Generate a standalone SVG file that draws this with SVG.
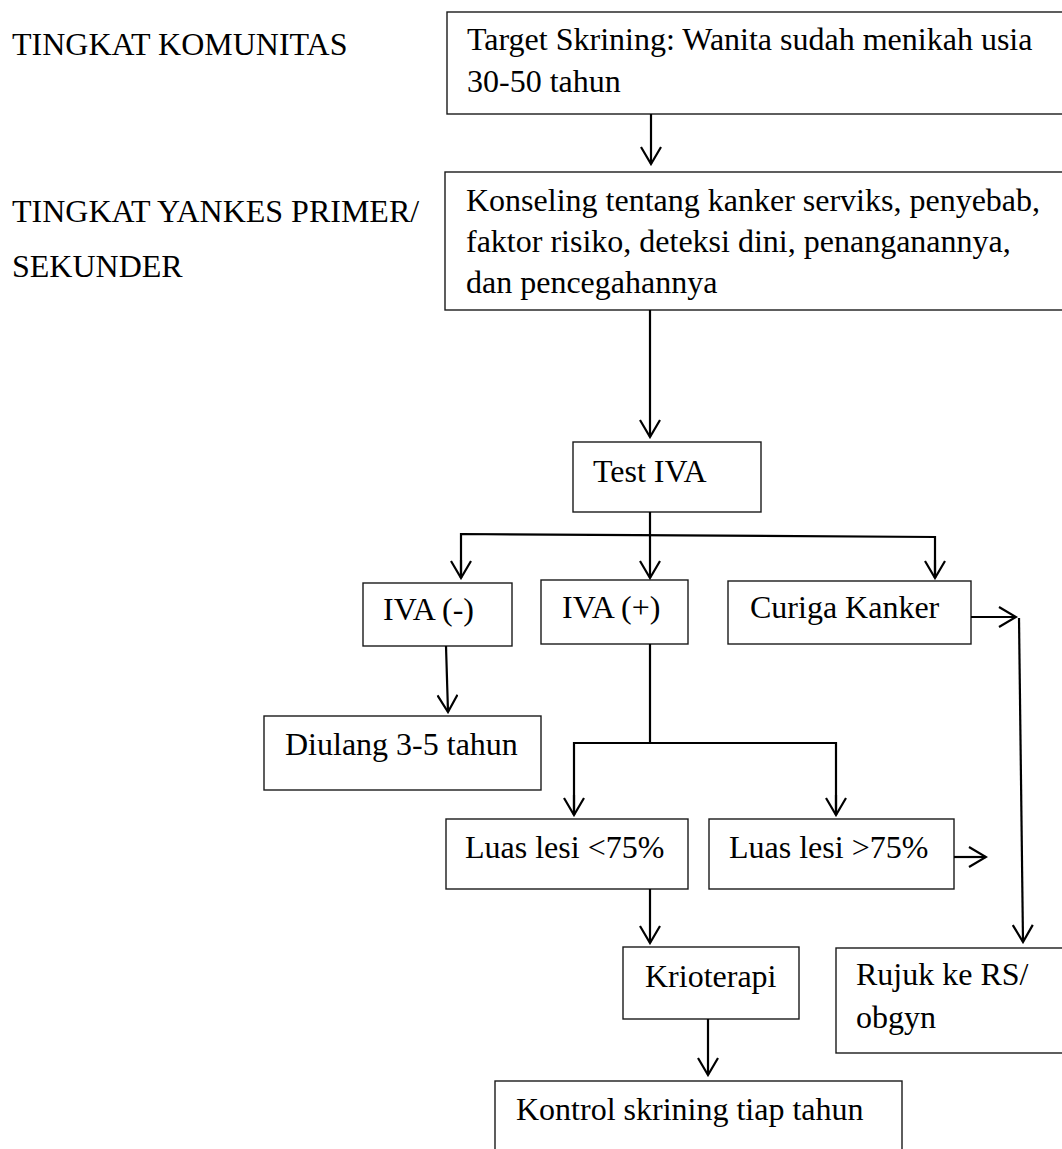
<svg xmlns="http://www.w3.org/2000/svg" width="1062" height="1149" viewBox="0 0 1062 1149">
  <style>
    .box { fill: #ffffff; stroke: #1a1a1a; stroke-width: 1.4; }
    .txt { font-family: "Liberation Serif", "Times New Roman", serif; font-size: 32px; fill: #000000; }
    .wire { fill: none; stroke: #000000; stroke-width: 2.2; }
  </style>
  <defs>
    <marker id="arrow" viewBox="0 0 20 22" refX="18" refY="11" markerWidth="20" markerHeight="22" markerUnits="userSpaceOnUse" orient="auto">
      <path d="M1,1 L18,11 L1,21" fill="none" stroke="#000000" stroke-width="2.2" stroke-linejoin="miter"/>
    </marker>
  </defs>
  <rect width="1062" height="1149" fill="#ffffff"/>

  <!-- level labels -->
  <g id="label-komunitas">
    <text class="txt" x="12" y="55">TINGKAT KOMUNITAS</text>
  </g>
  <g id="label-yankes">
    <text class="txt" x="12" y="222">TINGKAT YANKES PRIMER/</text>
    <text class="txt" x="12" y="277">SEKUNDER</text>
  </g>

  <!-- nodes -->
  <g id="target">
    <rect class="box" x="447" y="12" width="630" height="102"/>
    <text class="txt" x="467" y="50">Target Skrining: Wanita sudah menikah usia</text>
    <text class="txt" x="467" y="92">30-50 tahun</text>
  </g>
  <g id="konseling">
    <rect class="box" x="445" y="172" width="630" height="138"/>
    <text class="txt" x="466" y="211">Konseling tentang kanker serviks, penyebab,</text>
    <text class="txt" x="466" y="252">faktor risiko, deteksi dini, penanganannya,</text>
    <text class="txt" x="466" y="293">dan pencegahannya</text>
  </g>
  <g id="test-iva">
    <rect class="box" x="573" y="442" width="188" height="70"/>
    <text class="txt" x="593" y="482">Test IVA</text>
  </g>
  <g id="iva-neg">
    <rect class="box" x="363" y="583" width="149" height="63"/>
    <text class="txt" x="383" y="620">IVA (-)</text>
  </g>
  <g id="iva-pos">
    <rect class="box" x="541" y="580" width="147" height="64"/>
    <text class="txt" x="562" y="618">IVA (+)</text>
  </g>
  <g id="curiga">
    <rect class="box" x="728" y="581" width="243" height="63"/>
    <text class="txt" x="750" y="618">Curiga Kanker</text>
  </g>
  <g id="diulang">
    <rect class="box" x="264" y="716" width="277" height="74"/>
    <text class="txt" x="285" y="755">Diulang 3-5 tahun</text>
  </g>
  <g id="lesi-kecil">
    <rect class="box" x="446" y="819" width="242" height="70"/>
    <text class="txt" x="465" y="858">Luas lesi &lt;75%</text>
  </g>
  <g id="lesi-besar">
    <rect class="box" x="709" y="819" width="245" height="70"/>
    <text class="txt" x="729" y="858">Luas lesi &gt;75%</text>
  </g>
  <g id="krioterapi">
    <rect class="box" x="623" y="947" width="176" height="72"/>
    <text class="txt" x="645" y="987">Krioterapi</text>
  </g>
  <g id="rujuk">
    <rect class="box" x="836" y="948" width="240" height="105"/>
    <text class="txt" x="856" y="985">Rujuk ke RS/</text>
    <text class="txt" x="856" y="1028">obgyn</text>
  </g>
  <g id="kontrol">
    <rect class="box" x="495" y="1081" width="407" height="90"/>
    <text class="txt" x="516" y="1120">Kontrol skrining tiap tahun</text>
  </g>

  <!-- connectors -->
  <g id="connectors">
    <line class="wire" x1="651" y1="114" x2="651" y2="164" marker-end="url(#arrow)"/>
    <line class="wire" x1="650" y1="310" x2="650" y2="437" marker-end="url(#arrow)"/>
    <!-- Test IVA branches -->
    <line class="wire" x1="650" y1="512" x2="650" y2="578" marker-end="url(#arrow)"/>
    <polyline class="wire" points="461,578 461,534 935,537 935,578" />
    <line class="wire" x1="461" y1="560" x2="461" y2="578" marker-end="url(#arrow)"/>
    <line class="wire" x1="935" y1="560" x2="935" y2="578" marker-end="url(#arrow)"/>
    <!-- suspected cancer referral -->
    <line class="wire" x1="971" y1="617" x2="1016" y2="617" marker-end="url(#arrow)"/>
    <line class="wire" x1="1019" y1="618" x2="1023" y2="942" marker-end="url(#arrow)"/>
    <!-- IVA negative -->
    <line class="wire" x1="446" y1="646" x2="448" y2="712" marker-end="url(#arrow)"/>
    <!-- IVA positive branches -->
    <polyline class="wire" points="650,644 650,743 574,743 574,815"/>
    <polyline class="wire" points="650,743 836,743 836,815"/>
    <line class="wire" x1="574" y1="795" x2="574" y2="815" marker-end="url(#arrow)"/>
    <line class="wire" x1="836" y1="795" x2="836" y2="815" marker-end="url(#arrow)"/>
    <line class="wire" x1="954" y1="857" x2="986" y2="857" marker-end="url(#arrow)"/>
    <!-- treatment path -->
    <line class="wire" x1="650" y1="889" x2="650" y2="943" marker-end="url(#arrow)"/>
    <line class="wire" x1="708" y1="1019" x2="708" y2="1075" marker-end="url(#arrow)"/>
  </g>
</svg>
